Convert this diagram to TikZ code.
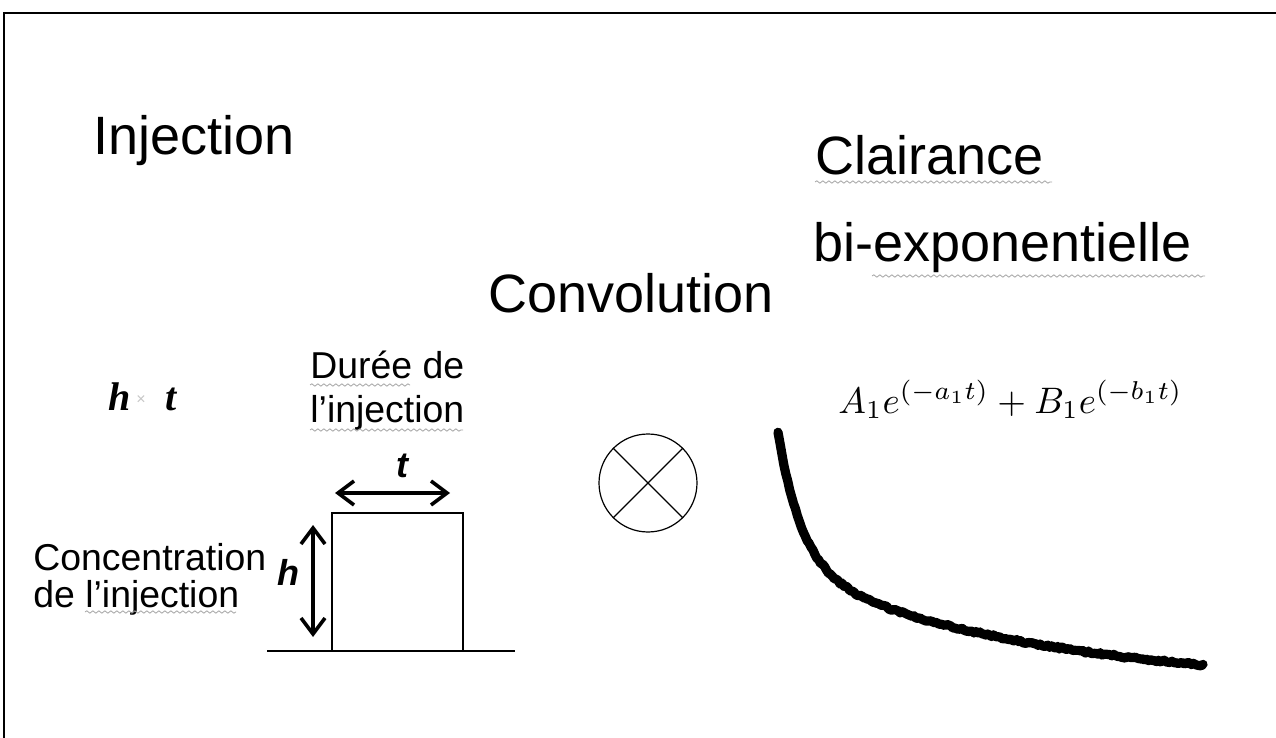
\documentclass[tikz,border=0pt]{standalone}
\usepackage{fontspec}
\usepackage{graphicx}
\setmainfont{Liberation Sans}
\newfontfamily\serifit{Liberation Serif}
\usetikzlibrary{arrows.meta,decorations.pathmorphing}
\begin{document}
\begin{tikzpicture}[x=0.5pt,y=-0.5pt,
  big/.style={font=\fontsize{27}{32}\selectfont, inner sep=0, anchor=base west},
  mid/.style={font=\fontsize{18.7}{22}\selectfont, inner sep=0, anchor=base west},
  spell/.style={draw=gray!70, line width=0.4pt, decorate, decoration={snake, amplitude=0.6pt, segment length=3pt}},
  dbl/.style={{Straight Barb[length=8pt,width=12pt]}-{Straight Barb[length=8pt,width=12pt]}, line width=1.8pt},
  var/.style={font=\bfseries\itshape\fontsize{18}{20}\selectfont, inner sep=0, anchor=base west}]
\useasboundingbox (0,0) rectangle (1276,738);
\fill[white] (0,0) rectangle (1276,738);
% frame
\coordinate (fbl) at (4,738);
\coordinate (ftl) at (4,13);
\coordinate (ftr) at (1276,13);
\draw[line width=1.2pt] (fbl) -- (ftl) -- (ftr);
% titles
\node[big] (inj) at (93,155) {Injection};
\node[big] (clair) at (815,175) {Clairance};
\node[big] (biexp) at (813,262) {bi-exponentielle};
\node[big] (conv) at (488,313) {Convolution};
% h x t
\node[anchor=base west, inner sep=0, font=\serifit\bfseries\itshape\fontsize{20}{24}\selectfont] (hh) at (108,410) {h};
\node[anchor=base, inner sep=0, font=\fontsize{8}{8}\selectfont, text=gray!45] (times) at (141,404) {×};
\node[anchor=base west, inner sep=0, font=\serifit\bfseries\itshape\fontsize{20}{24}\selectfont] (tt) at (165,410) {t};
% labels
\node[mid] (duree) at (310,378) {Durée de};
\node[mid] (linj) at (310,422) {l'injection};
\node[mid] (conc) at (33,570) {Concentration};
\node[mid] (dlinj) at (33,607) {de l'injection};
% spell-check underlines
\coordinate (s1a) at (310,385); \coordinate (s1b) at (410,385);
\coordinate (s2a) at (310,430); \coordinate (s2b) at (463,430);
\coordinate (s3a) at (85,612);  \coordinate (s3b) at (236,612);
\coordinate (s4a) at (815,182); \coordinate (s4b) at (1052,182);
\coordinate (s5a) at (872,276); \coordinate (s5b) at (1205,276);
\draw[spell] (s1a) -- (s1b);
\draw[spell] (s2a) -- (s2b);
\draw[spell] (s3a) -- (s3b);
\draw[spell] (s4a) -- (s4b);
\draw[spell] (s5a) -- (s5b);
% pulse
\node[draw, line width=0.7pt, minimum width=65.5pt, minimum height=69pt, inner sep=0] (pulse) at (397.5,582) {};
\coordinate (ax0) at (267,651);
\coordinate (ax1) at (515,651);
\draw[line width=0.8pt] (ax0) -- (ax1);
\coordinate (ta) at (335,493);
\coordinate (tb) at (450,493);
\draw[dbl] (ta) -- (tb);
\node[var, anchor=base] (tlab) at (402,477) {t};
\coordinate (ha) at (313,525);
\coordinate (hb) at (313,637);
\draw[dbl] (ha) -- (hb);
\node[var] (hlab) at (277,585) {h};
% convolution operator
\node[draw, circle, minimum size=49pt, inner sep=0, line width=0.6pt] (op) at (648,483) {};
\draw[line width=0.6pt] (op.north west) -- (op.south east);
\draw[line width=0.6pt] (op.north east) -- (op.south west);
% formula
\node[anchor=base west, inner sep=0] (form) at (838,413) {\resizebox{172pt}{!}{$A_1e^{(-a_1t)}+B_1e^{(-b_1t)}$}};
% bi-exponential clearance curve
\pgfmathsetseed{7}
\draw[line width=4.6pt, line cap=round, line join=round]
  plot[domain=778:1203, samples=220] (\x, {687-120.6*exp(-(\x-778)/250)-134.4*exp(-(\x-778)/24)+1.2*rand});
\end{tikzpicture}
\end{document}
